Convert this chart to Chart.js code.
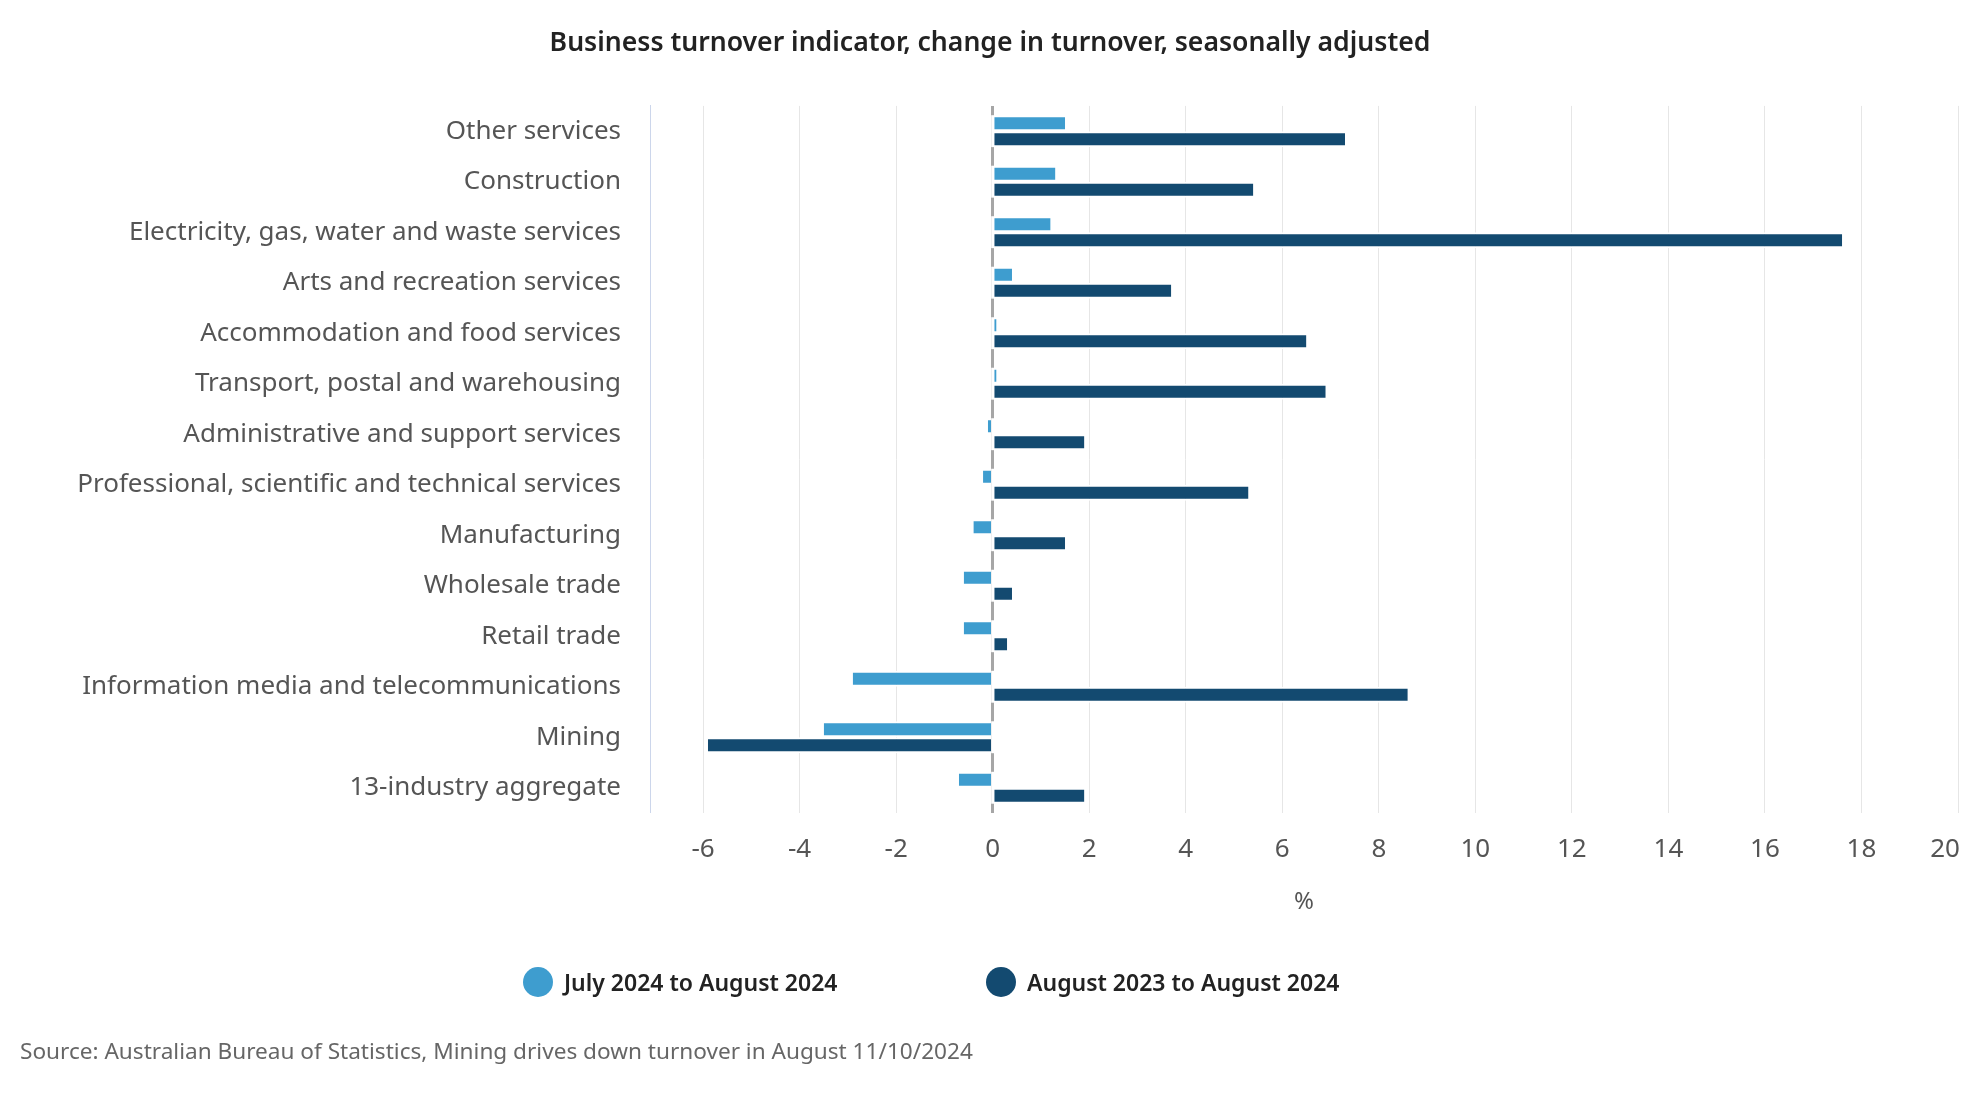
<!DOCTYPE html>
<html lang="en">
<head>
<meta charset="utf-8">
<title>Business turnover indicator</title>
<script src="https://cdn.jsdelivr.net/npm/chart.js@4.4.1/dist/chart.umd.min.js"></script>
<style>
  html, body { margin: 0; padding: 0; background: #fff; }
  #wrap { position: relative; width: 1980px; height: 1100px; font-family: "Noto Sans", sans-serif; }
  #chartBox { position: absolute; left: 0; top: 0; width: 1980px; height: 1100px; }
  .legend-item { position: absolute; top: 967px; height: 30px; display: flex; align-items: center;
    font-size: 23px; font-weight: 600; color: #222; white-space: nowrap; }
  .legend-dot { width: 30px; height: 30px; border-radius: 50%; margin-right: 11px; }
  #source { position: absolute; left: 20px; top: 1035px; font-size: 22.6px; color: #666; line-height: 32px; }
</style>
</head>
<body>
<div id="wrap">
  <div id="chartBox"><canvas id="turnoverChart"></canvas></div>
  <div id="legend"></div>
  <div id="source">Source: Australian Bureau of Statistics, Mining drives down turnover in August 11/10/2024</div>
</div>
<script>
const categories = [
  'Other services',
  'Construction',
  'Electricity, gas, water and waste services',
  'Arts and recreation services',
  'Accommodation and food services',
  'Transport, postal and warehousing',
  'Administrative and support services',
  'Professional, scientific and technical services',
  'Manufacturing',
  'Wholesale trade',
  'Retail trade',
  'Information media and telecommunications',
  'Mining',
  '13-industry aggregate'
];

// monthly change (July 2024 to August 2024)
const monthChange = [1.5, 1.3, 1.2, 0.4, 0.08, 0.08, -0.1, -0.2, -0.4, -0.6, -0.6, -2.9, -3.5, -0.7];
// annual change (August 2023 to August 2024)
const yearChange = [7.3, 5.4, 17.6, 3.7, 6.5, 6.9, 1.9, 5.3, 1.5, 0.4, 0.3, 8.6, -5.9, 1.9];

const seriesNames = ['July 2024 to August 2024', 'August 2023 to August 2024'];
const seriesColors = ['#3e9dcf', '#134a70'];

const X_MIN = -7.1;
const X_MAX = 20;
const X_STEP = 2;

const labelFont = { family: 'Noto Sans', size: 26 };
const barBorder = { top: 2, bottom: 2, left: 0, right: 0 };

function makeDataset(i, values) {
  return {
    label: seriesNames[i],
    data: values,
    backgroundColor: seriesColors[i],
    borderColor: '#ffffff',
    borderWidth: barBorder,
    borderSkipped: false,
    categoryPercentage: 0.632,
    barPercentage: 1
  };
}

// the zero line is broken where each pair of bars sits, like the original
const zeroGap = {
  id: 'zeroGap',
  afterDatasetsDraw(chart) {
    const c = chart.ctx;
    const x0 = chart.scales.x.getPixelForValue(0);
    const first = chart.getDatasetMeta(0).data;
    const last = chart.getDatasetMeta(chart.data.datasets.length - 1).data;
    c.save();
    c.fillStyle = '#ffffff';
    first.forEach((bar, i) => {
      const a = bar.getProps(['y', 'height'], true);
      const b = last[i].getProps(['y', 'height'], true);
      const top = a.y - a.height / 2;
      const bottom = b.y + b.height / 2;
      c.fillRect(x0 - 1.5, top, 3, bottom - top);
    });
    c.restore();
  }
};

const config = {
  type: 'bar',
  data: {
    labels: categories,
    datasets: [makeDataset(0, monthChange), makeDataset(1, yearChange)]
  },
  options: {
    indexAxis: 'y',
    responsive: true,
    maintainAspectRatio: false,
    animation: false,
    layout: { padding: { top: 0, right: 0, bottom: 180, left: 0 } },
    plugins: {
      legend: { display: false },
      tooltip: { enabled: false },
      title: {
        display: true,
        text: 'Business turnover indicator, change in turnover, seasonally adjusted',
        color: '#222',
        font: { family: 'Noto Sans', size: 26.6, weight: '600' },
        padding: { top: 27, bottom: 47 }
      }
    },
    scales: {
      x: {
        min: X_MIN,
        max: X_MAX,
        ticks: {
          stepSize: X_STEP,
          includeBounds: false,
          padding: 21,
          color: '#555',
          font: labelFont,
          // last label sits inside the plot edge in the original
          callback: (v) => v === X_MAX ? v + '\u2002\u2002' : v
        },
        grid: {
          drawTicks: false,
          color: (c) => c.tick && c.tick.value === 0 ? '#a6a6a6' : '#e6e6e6',
          lineWidth: (c) => c.tick && c.tick.value === 0 ? 3 : 1
        },
        border: { display: false },
        title: {
          display: true,
          text: '%',
          color: '#555',
          font: { family: 'Noto Sans', size: 24 },
          padding: { top: 0, bottom: 3 }
        },
        afterFit: (scale) => {
          scale.height = 107;
          scale.paddingRight = 22;
        }
      },
      y: {
        ticks: {
          padding: 29,
          autoSkip: false,
          color: '#555',
          font: labelFont
        },
        grid: { display: false, drawTicks: false },
        border: { display: true, color: '#ccd6eb', width: 1 },
        afterFit: (scale) => {
          scale.width = 650;
        }
      }
    }
  },
  plugins: [zeroGap]
};

const ctx = document.getElementById('turnoverChart').getContext('2d');
const turnoverChart = new Chart(ctx, config);

// legend drawn as html so it can sit where the original puts it
const legendLefts = [523, 986];
const legendEl = document.getElementById('legend');
turnoverChart.data.datasets.forEach((ds, i) => {
  const item = document.createElement('div');
  item.className = 'legend-item';
  item.style.left = legendLefts[i] + 'px';
  const dot = document.createElement('span');
  dot.className = 'legend-dot';
  dot.style.background = ds.backgroundColor;
  const txt = document.createElement('span');
  txt.textContent = ds.label;
  item.appendChild(dot);
  item.appendChild(txt);
  legendEl.appendChild(item);
});
</script>
</body>
</html>
